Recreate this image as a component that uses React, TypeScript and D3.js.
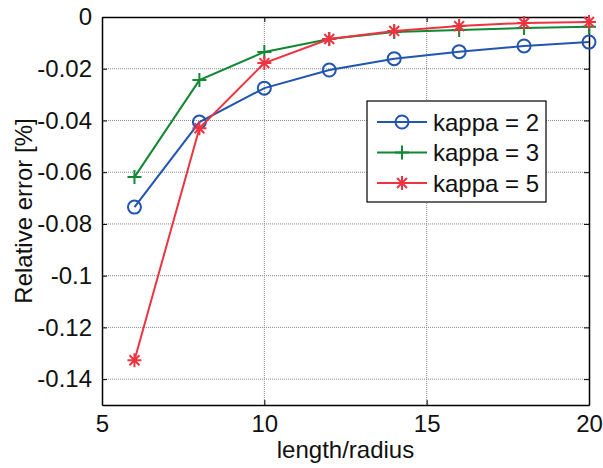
import * as d3 from "d3";
import { useEffect, useRef } from "react";

// values
const ratios = [6, 8, 10, 12, 14, 16, 18, 20];
const kappa2 = [-0.0735, -0.0406, -0.0275, -0.0205, -0.0161, -0.0134, -0.0112, -0.0097];
const kappa3 = [-0.0619, -0.0244, -0.0135, -0.0085, -0.0058, -0.005, -0.0043, -0.0038];
const kappa5 = [-0.1327, -0.043, -0.0178, -0.0085, -0.0054, -0.0035, -0.0023, -0.0019];
const seriesNames = ["kappa = 2", "kappa = 3", "kappa = 5"];
const xTicks = [5, 10, 15, 20];
const yTicks = [0, -0.02, -0.04, -0.06, -0.08, -0.1, -0.12, -0.14];

export default function App() {
  const ref = useRef<SVGSVGElement>(null);

  useEffect(() => {
    const svg = d3.select(ref.current);
    svg.selectAll("*").remove();

    const margin = { top: 17, right: 14, bottom: 63, left: 102 };
    const width = 603 - margin.left - margin.right;
    const height = 468 - margin.top - margin.bottom;
    const font = "Liberation Sans, Arial, sans-serif";
    const fs = 24;

    const x = d3.scaleLinear().domain([5, 20]).range([0, width]);
    const y = d3.scaleLinear().domain([-0.15, 0]).range([height, 0]);

    const g = svg
      .append("g")
      .attr("transform", "translate(" + margin.left + "," + margin.top + ")");

    // grid, dotted
    g.selectAll(".gx")
      .data(xTicks.slice(1, -1))
      .enter()
      .append("line")
      .attr("x1", (d) => x(d))
      .attr("x2", (d) => x(d))
      .attr("y1", 0)
      .attr("y2", height)
      .attr("stroke", "#888")
      .attr("stroke-width", 1)
      .attr("stroke-dasharray", "1,1");
    g.selectAll(".gy")
      .data(yTicks.slice(1))
      .enter()
      .append("line")
      .attr("x1", 0)
      .attr("x2", width)
      .attr("y1", (d) => y(d))
      .attr("y2", (d) => y(d))
      .attr("stroke", "#888")
      .attr("stroke-width", 1)
      .attr("stroke-dasharray", "1,1");

    // axes with inward ticks
    const tickLen = 5;
    const xAxis = g
      .append("g")
      .attr("transform", "translate(0," + height + ")")
      .call(d3.axisBottom(x).tickValues(xTicks).tickSizeInner(-tickLen).tickSizeOuter(0).tickFormat(d3.format("d")));
    const yAxis = g
      .append("g")
      .call(
        d3
          .axisLeft(y)
          .tickValues(yTicks)
          .tickSizeInner(-tickLen)
          .tickSizeOuter(0)
          .tickPadding(10)
          .tickFormat((d) => (d === 0 ? "0" : String(d)))
      );
    g.append("g")
      .call(d3.axisTop(x).tickValues(xTicks).tickSizeInner(-tickLen).tickSizeOuter(0).tickFormat(() => ""));
    g.append("g")
      .attr("transform", "translate(" + width + ",0)")
      .call(d3.axisRight(y).tickValues(yTicks).tickSizeInner(-tickLen).tickSizeOuter(0).tickFormat(() => ""));

    g.selectAll(".domain").attr("stroke", "#000").attr("stroke-width", 1.5);
    g.selectAll(".tick line").attr("stroke", "#000");
    [xAxis, yAxis].forEach((a) =>
      a.selectAll("text").attr("font-family", font).attr("font-size", fs).attr("fill", "#111")
    );
    xAxis.selectAll("text").attr("y", 27).attr("dy", 0);

    // axis titles
    g.append("text")
      .attr("x", width / 2)
      .attr("y", height + 53)
      .attr("text-anchor", "middle")
      .attr("font-family", font)
      .attr("font-size", fs)
      .attr("fill", "#111")
      .text("length/radius");
    g.append("text")
      .attr("transform", "translate(" + (-70) + "," + height / 2 + ") rotate(-90)")
      .attr("text-anchor", "middle")
      .attr("font-family", font)
      .attr("font-size", fs)
      .attr("fill", "#111")
      .text("Relative error [%]");

    const colors = ["#2255b0", "#118833", "#ee3340"];
    const allSeries = [kappa2, kappa3, kappa5];

    const drawMarker = (sel: any, i: number, cx: number, cy: number) => {
      if (i === 0) {
        sel.append("circle").attr("cx", cx).attr("cy", cy).attr("r", 6.5)
          .attr("fill", "none").attr("stroke", colors[i]).attr("stroke-width", 2);
      } else if (i === 1) {
        sel.append("path")
          .attr("d", `M${cx - 7},${cy}H${cx + 7}M${cx},${cy - 7}V${cy + 7}`)
          .attr("stroke", colors[i]).attr("stroke-width", 2);
      } else {
        const r = 7;
        const d = [0, 45, 90, 135]
          .map((a) => {
            const rad = (a * Math.PI) / 180;
            const dx = r * Math.cos(rad);
            const dy = r * Math.sin(rad);
            return `M${cx - dx},${cy - dy}L${cx + dx},${cy + dy}`;
          })
          .join("");
        sel.append("path").attr("d", d).attr("stroke", colors[i]).attr("stroke-width", 2);
      }
    };

    const line = d3
      .line<number>()
      .x((d, i) => x(ratios[i]))
      .y((d) => y(d));

    allSeries.forEach((vals, i) => {
      g.append("path")
        .datum(vals)
        .attr("d", line)
        .attr("fill", "none")
        .attr("stroke", colors[i])
        .attr("stroke-width", 2);
      const mg = g.append("g");
      vals.forEach((v, j) => drawMarker(mg, i, x(ratios[j]), y(v)));
    });

    // legend
    const lg = svg.append("g").attr("transform", "translate(367,101)");
    lg.append("rect").attr("width", 179).attr("height", 101)
      .attr("fill", "#fff").attr("stroke", "#000").attr("stroke-width", 1.2);
    seriesNames.forEach((name, i) => {
      const cy = 21 + i * 30.5;
      lg.append("line").attr("x1", 10).attr("x2", 60).attr("y1", cy).attr("y2", cy)
        .attr("stroke", colors[i]).attr("stroke-width", 2);
      drawMarker(lg, i, 35, cy);
      lg.append("text").attr("x", 66).attr("y", cy + 8.5)
        .attr("font-family", font).attr("font-size", fs).attr("fill", "#111")
        .text(name);
    });
  }, []);

  return (
    <svg
      ref={ref}
      width={603}
      height={468}
      style={{ position: "absolute", left: 0, top: 0, background: "#fff" }}
    />
  );
}
